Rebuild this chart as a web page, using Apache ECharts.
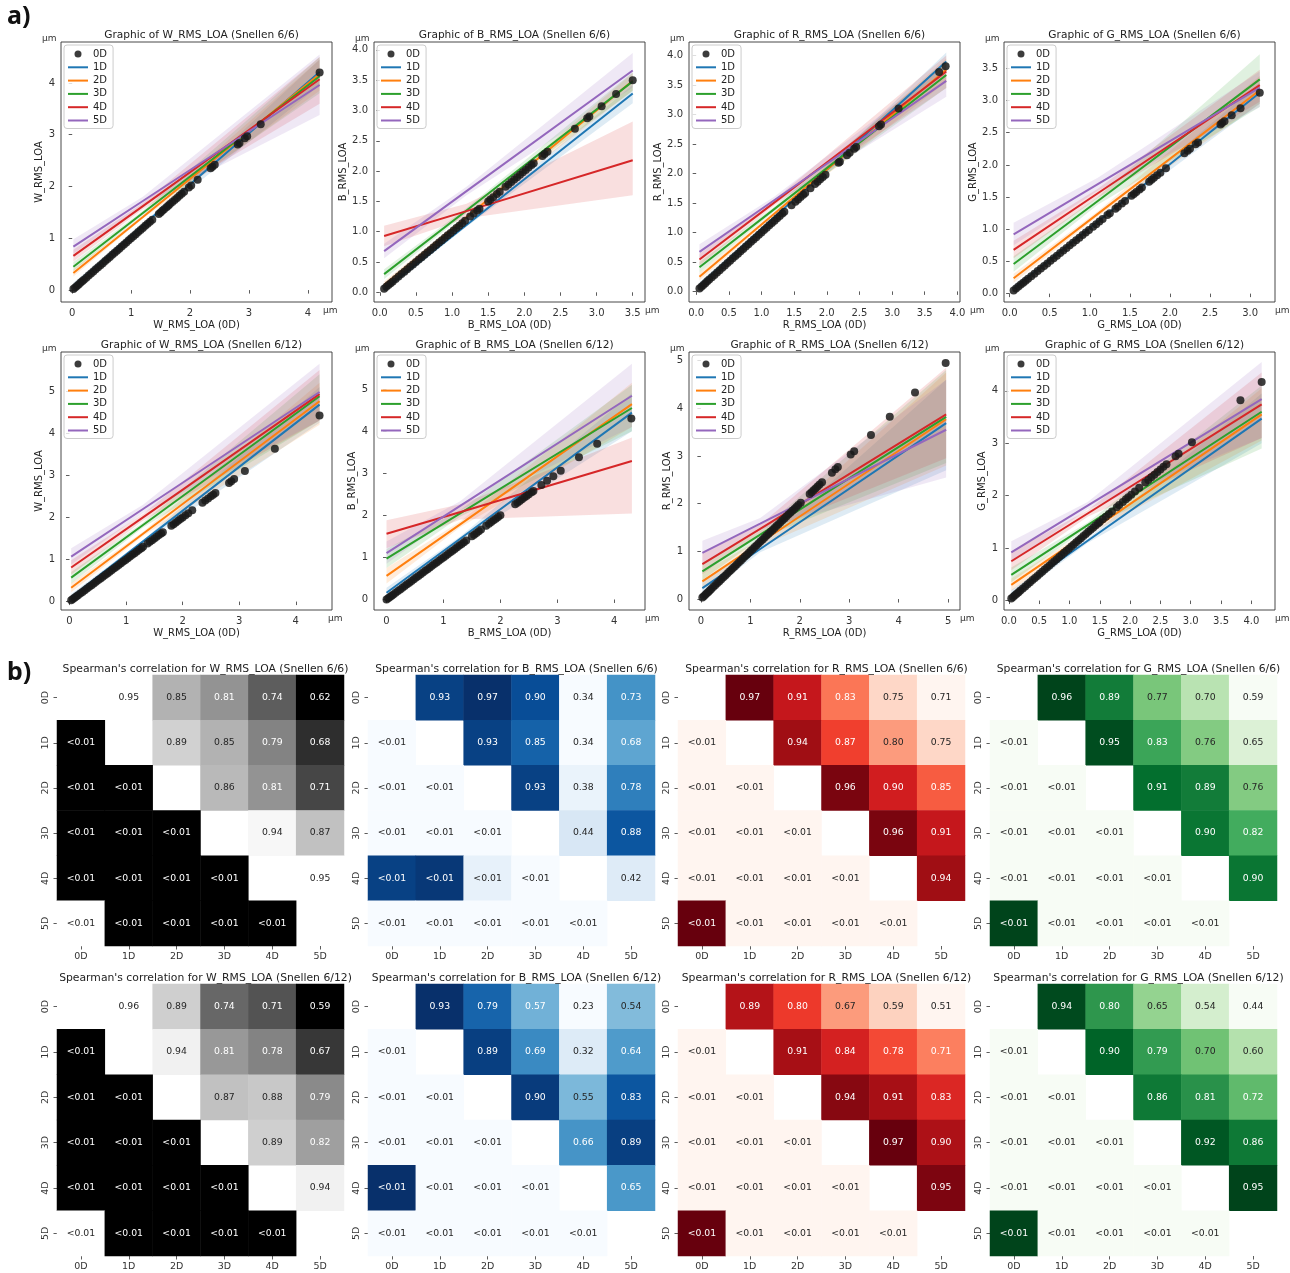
<!DOCTYPE html>
<html><head><meta charset="utf-8">
<script src="https://cdn.jsdelivr.net/npm/echarts@6/dist/echarts.min.js"></script>
<style>html,body{margin:0;padding:0;background:#fff}#c{width:1290px;height:1273px}</style>
</head><body><div id="c"></div><script>
const FONT = 'DejaVu Sans';
const GROUPS = ['0D','1D','2D','3D','4D','5D'];
const FIT_NAMES = ['1D','2D','3D','4D','5D'];
const LINE_COLORS = ['#1f77b4','#ff7f0e','#2ca02c','#d62728','#9467bd'];

// ---------- 0D points (x values; 0D plotted against itself) ----------
const W66_0D = [0.02,0.05,0.08,0.11,0.14,0.17,0.2,0.24,0.28,0.32,0.36,0.4,0.44,0.48,0.52,0.56,0.6,0.64,0.68,0.72,0.76,0.8,0.84,0.88,0.92,0.96,1.0,1.04,1.08,1.12,1.16,1.2,1.24,1.28,1.32,1.36,1.47,1.5,1.53,1.56,1.6,1.63,1.66,1.7,1.74,1.78,1.82,1.86,1.9,1.98,2.02,2.13,2.35,2.38,2.42,2.81,2.84,2.93,2.97,3.2,4.2];
const B66_0D = [0.06,0.09,0.12,0.15,0.18,0.22,0.26,0.3,0.34,0.38,0.42,0.46,0.5,0.54,0.58,0.62,0.66,0.7,0.74,0.78,0.82,0.86,0.9,0.94,0.98,1.02,1.06,1.1,1.14,1.18,1.25,1.3,1.35,1.38,1.5,1.53,1.57,1.62,1.66,1.74,1.78,1.82,1.86,1.9,1.94,1.98,2.02,2.06,2.1,2.13,2.25,2.28,2.32,2.7,2.87,2.9,3.07,3.27,3.5];
const R66_0D = [0.05,0.08,0.11,0.14,0.17,0.2,0.24,0.28,0.32,0.36,0.4,0.44,0.48,0.52,0.56,0.6,0.64,0.68,0.72,0.76,0.8,0.84,0.88,0.92,0.96,1.0,1.04,1.08,1.12,1.16,1.2,1.24,1.28,1.32,1.35,1.46,1.52,1.56,1.6,1.64,1.67,1.75,1.82,1.86,1.9,1.94,1.98,2.18,2.2,2.31,2.35,2.42,2.45,2.8,2.83,3.1,3.72,3.82];
const G66_0D = [0.05,0.08,0.11,0.14,0.17,0.2,0.23,0.27,0.31,0.35,0.39,0.43,0.47,0.51,0.55,0.59,0.63,0.67,0.71,0.75,0.79,0.83,0.87,0.91,0.95,0.99,1.04,1.08,1.12,1.16,1.22,1.25,1.32,1.35,1.4,1.44,1.52,1.55,1.58,1.62,1.65,1.74,1.77,1.8,1.84,1.88,1.95,2.18,2.22,2.25,2.32,2.35,2.63,2.65,2.68,2.77,2.88,3.12];
const W612_0D = [0.03,0.06,0.09,0.12,0.15,0.19,0.23,0.27,0.31,0.35,0.39,0.43,0.47,0.51,0.55,0.59,0.63,0.67,0.71,0.75,0.79,0.83,0.87,0.91,0.95,0.99,1.03,1.07,1.11,1.15,1.19,1.23,1.27,1.3,1.38,1.42,1.46,1.5,1.54,1.58,1.62,1.65,1.8,1.84,1.88,1.92,1.96,2.0,2.05,2.1,2.17,2.35,2.4,2.45,2.5,2.54,2.58,2.82,2.86,2.91,3.1,3.63,4.42];
const B612_0D = [0.0,0.03,0.06,0.09,0.12,0.16,0.2,0.24,0.28,0.32,0.36,0.4,0.44,0.48,0.52,0.56,0.6,0.64,0.68,0.72,0.76,0.8,0.84,0.88,0.92,0.96,1.0,1.04,1.08,1.12,1.16,1.2,1.24,1.28,1.32,1.36,1.4,1.5,1.54,1.58,1.62,1.66,1.75,1.8,1.84,1.88,1.92,1.96,2.0,2.26,2.3,2.34,2.38,2.42,2.46,2.5,2.55,2.58,2.72,2.82,2.93,3.06,3.38,3.7,4.3];
const R612_0D = [0.03,0.06,0.09,0.12,0.15,0.18,0.21,0.25,0.29,0.33,0.37,0.41,0.45,0.49,0.53,0.57,0.61,0.65,0.69,0.73,0.77,0.81,0.85,0.89,0.93,0.97,1.01,1.05,1.09,1.13,1.17,1.21,1.25,1.29,1.33,1.37,1.41,1.45,1.49,1.53,1.57,1.61,1.65,1.69,1.73,1.77,1.81,1.85,1.89,1.93,1.97,2.02,2.2,2.24,2.28,2.32,2.36,2.4,2.45,2.65,2.72,2.77,3.03,3.1,3.44,3.82,4.33,4.95];
const G612_0D = [0.04,0.07,0.1,0.13,0.16,0.19,0.23,0.27,0.31,0.35,0.39,0.43,0.47,0.51,0.55,0.59,0.63,0.67,0.71,0.75,0.79,0.83,0.87,0.91,0.95,0.99,1.03,1.07,1.11,1.15,1.19,1.23,1.27,1.31,1.35,1.39,1.43,1.47,1.5,1.55,1.6,1.65,1.7,1.78,1.82,1.88,1.93,1.97,2.02,2.08,2.15,2.25,2.3,2.35,2.4,2.45,2.5,2.55,2.6,2.75,2.8,3.02,3.82,4.17];

// ---------- regression fits 1D..5D: [x, ci_low, fit, ci_high] ----------
const W66_FIT = [
 [[0.02,0.02,0.08,0.14],[1.2,1.22,1.25,1.28],[4.2,3.95,4.21,4.45]],
 [[0.02,0.26,0.33,0.40],[1.2,1.38,1.41,1.44],[4.2,3.85,4.17,4.45]],
 [[0.02,0.37,0.45,0.54],[1.2,1.45,1.49,1.53],[4.2,3.80,4.13,4.50]],
 [[0.02,0.55,0.66,0.78],[1.2,1.56,1.62,1.68],[4.2,3.60,4.07,4.50]],
 [[0.02,0.70,0.84,0.98],[1.2,1.64,1.72,1.80],[4.2,3.38,3.96,4.55]]];
const B66_FIT = [
 [[0.06,0.00,0.04,0.09],[1.2,1.08,1.11,1.14],[3.5,3.12,3.28,3.42]],
 [[0.06,0.06,0.12,0.18],[1.2,1.21,1.24,1.27],[3.5,3.33,3.49,3.62]],
 [[0.06,0.22,0.30,0.38],[1.2,1.31,1.35,1.39],[3.5,3.32,3.48,3.63]],
 [[0.06,0.76,0.93,1.10],[1.2,1.22,1.34,1.46],[3.5,1.60,2.18,2.82]],
 [[0.06,0.56,0.68,0.80],[1.2,1.60,1.67,1.74],[3.5,3.38,3.66,3.95]]];
const R66_FIT = [
 [[0.05,0.04,0.10,0.16],[1.2,1.23,1.26,1.28],[3.83,3.72,3.90,4.05]],
 [[0.05,0.18,0.25,0.32],[1.2,1.29,1.32,1.35],[3.83,3.55,3.76,3.95]],
 [[0.05,0.32,0.41,0.50],[1.2,1.36,1.40,1.44],[3.83,3.45,3.67,3.90]],
 [[0.05,0.44,0.54,0.64],[1.2,1.46,1.51,1.56],[3.83,3.45,3.73,4.00]],
 [[0.05,0.55,0.67,0.80],[1.2,1.49,1.55,1.61],[3.83,3.30,3.57,3.85]]];
const G66_FIT = [
 [[0.05,0.03,0.08,0.13],[1.1,1.09,1.12,1.15],[3.12,2.95,3.12,3.28]],
 [[0.05,0.17,0.24,0.31],[1.1,1.20,1.24,1.28],[3.12,2.95,3.16,3.38]],
 [[0.05,0.34,0.46,0.58],[1.1,1.38,1.44,1.50],[3.12,2.90,3.33,3.72]],
 [[0.05,0.55,0.68,0.82],[1.1,1.49,1.56,1.63],[3.12,2.98,3.24,3.48]],
 [[0.05,0.75,0.92,1.10],[1.1,1.60,1.70,1.80],[3.12,2.90,3.20,3.45]]];
const W612_FIT = [
 [[0.03,0.02,0.10,0.18],[1.3,1.39,1.43,1.46],[4.42,4.25,4.68,5.10]],
 [[0.03,0.22,0.33,0.44],[1.3,1.56,1.61,1.66],[4.42,4.20,4.76,5.20]],
 [[0.03,0.43,0.57,0.70],[1.3,1.76,1.82,1.88],[4.42,4.30,4.88,5.40]],
 [[0.03,0.64,0.81,0.98],[1.3,1.92,2.00,2.08],[4.42,4.30,4.93,5.50]],
 [[0.03,0.88,1.07,1.27],[1.3,2.10,2.20,2.30],[4.42,4.30,4.98,5.65]]];
const B612_FIT = [
 [[0.0,0.05,0.16,0.28],[1.3,1.40,1.45,1.50],[4.31,4.00,4.44,4.90]],
 [[0.0,0.38,0.56,0.75],[1.3,1.72,1.79,1.86],[4.31,4.10,4.64,5.15]],
 [[0.0,0.75,0.97,1.20],[1.3,1.97,2.05,2.13],[4.31,4.00,4.55,5.10]],
 [[0.0,1.22,1.56,1.88],[1.3,1.90,2.08,2.26],[4.31,2.04,3.29,3.85]],
 [[0.0,0.85,1.10,1.38],[1.3,2.12,2.23,2.34],[4.31,4.10,4.84,5.60]]];
const R612_FIT = [
 [[0.03,0.05,0.23,0.40],[1.2,0.98,1.05,1.12],[4.96,2.70,3.69,4.60]],
 [[0.03,0.20,0.37,0.55],[1.2,1.10,1.18,1.26],[4.96,2.80,3.77,4.75]],
 [[0.03,0.40,0.58,0.76],[1.2,1.27,1.35,1.43],[4.96,2.85,3.82,4.80]],
 [[0.03,0.52,0.73,0.95],[1.2,1.38,1.47,1.56],[4.96,2.95,3.87,4.85]],
 [[0.03,0.72,0.97,1.22],[1.2,1.46,1.58,1.70],[4.96,2.55,3.55,4.60]]];
const G612_FIT = [
 [[0.04,0.02,0.11,0.20],[1.3,1.10,1.14,1.18],[4.17,3.00,3.47,3.95]],
 [[0.04,0.18,0.30,0.42],[1.3,1.25,1.29,1.33],[4.17,3.05,3.55,4.05]],
 [[0.04,0.35,0.49,0.63],[1.3,1.39,1.44,1.49],[4.17,2.90,3.60,4.10]],
 [[0.04,0.58,0.75,0.93],[1.3,1.60,1.66,1.72],[4.17,3.10,3.74,4.35]],
 [[0.04,0.72,0.92,1.13],[1.3,1.74,1.81,1.88],[4.17,3.10,3.84,4.55]]];

// ---------- tick labels ----------
const T_INT4 = [0,1,2,3,4];
const T_INT5 = [0,1,2,3,4,5];
const T_H30 = [0,0.5,1,1.5,2,2.5,3];
const T_H35 = [0,0.5,1,1.5,2,2.5,3,3.5];
const T_H40 = [0,0.5,1,1.5,2,2.5,3,3.5,4];

// ---------- Spearman heatmaps ----------
// upper triangle correlations (row r, columns r+1..5)
const HM_W66_UP = [[0.95,0.85,0.81,0.74,0.62],[0.89,0.85,0.79,0.68],[0.86,0.81,0.71],[0.94,0.87],[0.95]];
const HM_B66_UP = [[0.93,0.97,0.90,0.34,0.73],[0.93,0.85,0.34,0.68],[0.93,0.38,0.78],[0.44,0.88],[0.42]];
const HM_R66_UP = [[0.97,0.91,0.83,0.75,0.71],[0.94,0.87,0.80,0.75],[0.96,0.90,0.85],[0.96,0.91],[0.94]];
const HM_G66_UP = [[0.96,0.89,0.77,0.70,0.59],[0.95,0.83,0.76,0.65],[0.91,0.89,0.76],[0.90,0.82],[0.90]];
const HM_W612_UP = [[0.96,0.89,0.74,0.71,0.59],[0.94,0.81,0.78,0.67],[0.87,0.88,0.79],[0.89,0.82],[0.94]];
const HM_B612_UP = [[0.93,0.79,0.57,0.23,0.54],[0.89,0.69,0.32,0.64],[0.90,0.55,0.83],[0.66,0.89],[0.65]];
const HM_R612_UP = [[0.89,0.80,0.67,0.59,0.51],[0.91,0.84,0.78,0.71],[0.94,0.91,0.83],[0.97,0.90],[0.95]];
const HM_G612_UP = [[0.94,0.80,0.65,0.54,0.44],[0.90,0.79,0.70,0.60],[0.86,0.81,0.72],[0.92,0.86],[0.95]];
// lower triangle (p-values, all "<0.01"): colour value of each cell (row r, columns 0..r-1)
const P_TEXT = '<0.01';
const HM_W66_LOW = [[0.62],[0.62,0.62],[0.62,0.62,0.62],[0.62,0.62,0.62,0.62],[0.95,0.62,0.62,0.62,0.62]];
const HM_B66_LOW = [[0.34],[0.34,0.34],[0.34,0.34,0.34],[0.93,0.95,0.39,0.34],[0.34,0.34,0.34,0.34,0.34]];
const HM_R66_LOW = [[0.71],[0.71,0.71],[0.71,0.71,0.71],[0.71,0.71,0.71,0.71],[0.97,0.71,0.71,0.71,0.71]];
const HM_G66_LOW = [[0.59],[0.59,0.59],[0.59,0.59,0.59],[0.59,0.59,0.59,0.59],[0.96,0.59,0.59,0.59,0.59]];
const HM_W612_LOW = [[0.59],[0.59,0.59],[0.59,0.59,0.59],[0.59,0.59,0.59,0.59],[0.96,0.59,0.59,0.59,0.59]];
const HM_B612_LOW = [[0.23],[0.23,0.23],[0.23,0.23,0.23],[0.93,0.23,0.23,0.23],[0.23,0.23,0.23,0.23,0.23]];
const HM_R612_LOW = [[0.51],[0.51,0.51],[0.51,0.51,0.51],[0.51,0.51,0.51,0.51],[0.97,0.51,0.51,0.51,0.51]];
const HM_G612_LOW = [[0.44],[0.44,0.44],[0.44,0.44,0.44],[0.44,0.44,0.44,0.44],[0.95,0.44,0.44,0.44,0.44]];

const CMAPS = {
  gray: ['#000000','#ffffff'],
  Blues: ['#f7fbff','#deebf7','#c6dbef','#9ecae1','#6baed6','#4292c6','#2171b5','#08519c','#08306b'],
  Reds: ['#fff5f0','#fee0d2','#fcbba1','#fc9272','#fb6a4a','#ef3b2c','#cb181d','#a50f15','#67000d'],
  Greens: ['#f7fcf5','#e5f5e0','#c7e9c0','#a1d99b','#74c476','#41ab5d','#238b45','#006d2c','#00441b']
};

// ---------- panel definitions ----------
const SCATTER = [
  {v:'W', s:'6/6', pts:W66_0D, fit:W66_FIT, x:[-0.19,4.41], y:[-0.23,4.79], xt:T_INT4, yt:T_INT4, xd:0, yd:0},
  {v:'B', s:'6/6', pts:B66_0D, fit:B66_FIT, x:[-0.08,3.67], y:[-0.16,4.13], xt:T_H35, yt:T_H40, xd:1, yd:1},
  {v:'R', s:'6/6', pts:R66_0D, fit:R66_FIT, x:[-0.11,4.04], y:[-0.18,4.23], xt:T_H40, yt:T_H40, xd:1, yd:1},
  {v:'G', s:'6/6', pts:G66_0D, fit:G66_FIT, x:[-0.07,3.31], y:[-0.13,3.91], xt:T_H30, yt:T_H35, xd:1, yd:1},
  {v:'W', s:'6/12', pts:W612_0D, fit:W612_FIT, x:[-0.15,4.64], y:[-0.2,5.93], xt:T_INT4, yt:T_INT5, xd:0, yd:0},
  {v:'B', s:'6/12', pts:B612_0D, fit:B612_FIT, x:[-0.22,4.54], y:[-0.25,5.88], xt:T_INT4, yt:T_INT5, xd:0, yd:0},
  {v:'R', s:'6/12', pts:R612_0D, fit:R612_FIT, x:[-0.24,5.24], y:[-0.23,5.18], xt:T_INT5, yt:T_INT5, xd:0, yd:0},
  {v:'G', s:'6/12', pts:G612_0D, fit:G612_FIT, x:[-0.08,4.39], y:[-0.18,4.74], xt:T_H40, yt:T_INT4, xd:1, yd:0}
];
const HEATMAPS = [
  {v:'W', s:'6/6', up:HM_W66_UP, low:HM_W66_LOW, cmap:'gray'},
  {v:'B', s:'6/6', up:HM_B66_UP, low:HM_B66_LOW, cmap:'Blues'},
  {v:'R', s:'6/6', up:HM_R66_UP, low:HM_R66_LOW, cmap:'Reds'},
  {v:'G', s:'6/6', up:HM_G66_UP, low:HM_G66_LOW, cmap:'Greens'},
  {v:'W', s:'6/12', up:HM_W612_UP, low:HM_W612_LOW, cmap:'gray'},
  {v:'B', s:'6/12', up:HM_B612_UP, low:HM_B612_LOW, cmap:'Blues'},
  {v:'R', s:'6/12', up:HM_R612_UP, low:HM_R612_LOW, cmap:'Reds'},
  {v:'G', s:'6/12', up:HM_G612_UP, low:HM_G612_LOW, cmap:'Greens'}
];

// ---------- layout (pixels) ----------
const SC_LEFT = [61, 374, 689, 1004], SC_TOP = [42, 352], SC_W = 271, SC_H = [260, 258];
const UM_X = [323, 645, 970, 1275, 328, 645, 960, 1275];
const HM_LEFT = [57, 368, 678, 990], HM_TOP = [675, 984], HM_W = 287, HM_H = [271, 272];

// ---------- helpers ----------
function hex2rgb(h){ return [parseInt(h.slice(1,3),16), parseInt(h.slice(3,5),16), parseInt(h.slice(5,7),16)]; }
function rgba(h,a){ const c=hex2rgb(h); return 'rgba('+c[0]+','+c[1]+','+c[2]+','+a+')'; }
function cmapColor(name, t){
  const st = CMAPS[name]; t = Math.max(0, Math.min(1, t));
  const p = t*(st.length-1), i = Math.min(st.length-2, Math.floor(p)), f = p - i;
  const a = hex2rgb(st[i]), b = hex2rgb(st[i+1]);
  return [0,1,2].map(k => Math.round(a[k] + (b[k]-a[k])*f));
}
function lum(c){
  const l = c.map(v => { v/=255; return v <= 0.03928 ? v/12.92 : Math.pow((v+0.055)/1.055, 2.4); });
  return 0.2126*l[0] + 0.7152*l[1] + 0.0722*l[2];
}
const LINE_ICON = 'path://M0,0L20,0L20,2L0,2Z';

const grid=[], xAxis=[], yAxis=[], series=[], legend=[], title=[], graphic=[];
const axisCommon = {
  axisLine:{show:false}, splitLine:{show:false},
  axisTick:{show:true, inside:false, length:3.5, lineStyle:{color:'#333', width:0.8}},
  nameTextStyle:{fontFamily:FONT, fontSize:10, color:'#222'}
};

SCATTER.forEach((p, i) => {
  const col = i % 4, row = Math.floor(i / 4);
  const gl = SC_LEFT[col], gt = SC_TOP[row], gh = SC_H[row];
  grid.push({left:gl, top:gt, width:SC_W, height:gh, show:true, borderColor:'#333', borderWidth:0.9, backgroundColor:'transparent'});
  const vname = p.v + '_RMS_LOA';
  xAxis.push(Object.assign({}, axisCommon, {
    type:'value', gridIndex:i, min:p.x[0], max:p.x[1],
    name: vname + ' (0D)', nameLocation:'middle', nameGap:18,
    axisTick:Object.assign({}, axisCommon.axisTick, {customValues:p.xt}),
    axisLabel:{customValues:p.xt, margin:6, fontFamily:FONT, fontSize:10, color:'#333',
      formatter: v => Number(v).toFixed(p.xd)}
  }));
  yAxis.push(Object.assign({}, axisCommon, {
    type:'value', gridIndex:i, min:p.y[0], max:p.y[1],
    name: vname, nameLocation:'middle', nameRotate:90, nameGap: p.yd ? 24 : 17,
    axisTick:Object.assign({}, axisCommon.axisTick, {customValues:p.yt}),
    axisLabel:{customValues:p.yt, margin:6, fontFamily:FONT, fontSize:10, color:'#333',
      formatter: v => Number(v).toFixed(p.yd)}
  }));
  // confidence bands
  p.fit.forEach((band, k) => {
    series.push({
      type:'custom', name: FIT_NAMES[k] + ' CI', xAxisIndex:i, yAxisIndex:i, silent:true, z:1, clip:true,
      data: band.map(d => [d[0], d[1], d[3]]), encode:{x:0, y:[1,2]},
      renderItem: (params, api) => {
        if (params.dataIndex !== 0) return null;
        const up = band.map(d => api.coord([d[0], d[3]]));
        const lo = band.map(d => api.coord([d[0], d[1]])).reverse();
        return {type:'polygon', shape:{points: up.concat(lo)}, style:{fill: rgba(LINE_COLORS[k], 0.15)}};
      }
    });
  });
  // regression lines
  p.fit.forEach((band, k) => {
    series.push({
      type:'line', name: FIT_NAMES[k], xAxisIndex:i, yAxisIndex:i, silent:true, z:3,
      data: band.map(d => [d[0], d[2]]), symbol:'none', showSymbol:false,
      lineStyle:{color:LINE_COLORS[k], width:2}, itemStyle:{color:LINE_COLORS[k]}
    });
  });
  // 0D scatter (0D against itself)
  series.push({
    type:'scatter', name:'0D', xAxisIndex:i, yAxisIndex:i, silent:true, z:4,
    data: p.pts.map(v => [v, v]), symbol:'circle', symbolSize:8,
    itemStyle:{color:'#1a1a1a', opacity:0.85}
  });
  legend.push({
    left: gl + 3, top: gt + 3, orient:'vertical', selectedMode:false,
    data: [{name:'0D', icon:'circle'}].concat(FIT_NAMES.map(n => ({name:n, icon:LINE_ICON}))),
    itemWidth:20, itemHeight:7, itemGap:3.3, itemTextGap:6, padding:[4,6,3,4],
    borderColor:'#cccccc', borderWidth:1, borderRadius:3, backgroundColor:'rgba(255,255,255,0.8)',
    textStyle:{fontFamily:FONT, fontSize:10, color:'#222', lineHeight:10}
  });
  title.push({text:'Graphic of ' + vname + ' (Snellen ' + p.s + ')', left: gl + SC_W/2, top: gt - 17, textAlign:'center',
    textStyle:{fontFamily:FONT, fontSize:10.6, fontWeight:'normal', color:'#222'}});
  graphic.push({type:'text', left: gl - 19, top: gt - 8, style:{text:'μm', fontFamily:FONT, fontSize:9, fill:'#333'}});
  graphic.push({type:'text', left: UM_X[i], top: gt + gh + 4, style:{text:'μm', fontFamily:FONT, fontSize:9, fill:'#333'}});
});

HEATMAPS.forEach((h, j) => {
  const idx = SCATTER.length + j;
  const col = j % 4, row = Math.floor(j / 4);
  const gl = HM_LEFT[col], gt = HM_TOP[row], gh = HM_H[row];
  grid.push({left:gl, top:gt, width:HM_W, height:gh});
  xAxis.push(Object.assign({}, axisCommon, {type:'category', gridIndex:idx, data:GROUPS,
    axisTick:Object.assign({}, axisCommon.axisTick, {alignWithLabel:true}),
    axisLabel:{fontFamily:FONT, fontSize:9.5, color:'#333', margin:6}}));
  yAxis.push(Object.assign({}, axisCommon, {type:'category', gridIndex:idx, data:GROUPS, inverse:true,
    axisTick:Object.assign({}, axisCommon.axisTick, {alignWithLabel:true}),
    axisLabel:{fontFamily:FONT, fontSize:9.5, color:'#333', rotate:90, margin:6}}));
  const all = [].concat(...h.up);
  const vmin = Math.min(...all), vmax = Math.max(...all);
  const items = [];
  const mk = (c, r, v, txt) => {
    const rgb = cmapColor(h.cmap, (v - vmin) / (vmax - vmin));
    items.push({value:[c, r, v], text:txt,
      itemStyle:{color:'rgb(' + rgb.join(',') + ')'},
      label:{color: lum(rgb) > 0.408 ? '#262626' : '#ffffff'}});
  };
  h.up.forEach((rowVals, r) => rowVals.forEach((v, k) => mk(r + 1 + k, r, v, v.toFixed(2))));
  h.low.forEach((rowVals, r) => rowVals.forEach((v, c) => mk(c, r + 1, v, P_TEXT)));
  series.push({type:'heatmap', xAxisIndex:idx, yAxisIndex:idx, data:items, silent:true,
    label:{show:true, fontFamily:FONT, fontSize:9.3, formatter: pr => pr.data.text},
    emphasis:{disabled:true}});
  title.push({text:"Spearman's correlation for " + h.v + '_RMS_LOA (Snellen ' + h.s + ')', left: gl + HM_W/2, top: gt - 16, textAlign:'center',
    textStyle:{fontFamily:FONT, fontSize:10.8, fontWeight:'normal', color:'#222'}});
});

graphic.push({type:'text', left:7, top:4, style:{text:'a)', fontFamily:'Noto Sans', fontWeight:'bold', fontSize:25, fill:'#111'}});
graphic.push({type:'text', left:7, top:660, style:{text:'b)', fontFamily:'Noto Sans', fontWeight:'bold', fontSize:25, fill:'#111'}});

const chart = echarts.init(document.getElementById('c'), null, {renderer:'canvas'});
chart.setOption({animation:false, backgroundColor:'#fff', grid, xAxis, yAxis, series, legend, title, graphic});
</script></body></html>
